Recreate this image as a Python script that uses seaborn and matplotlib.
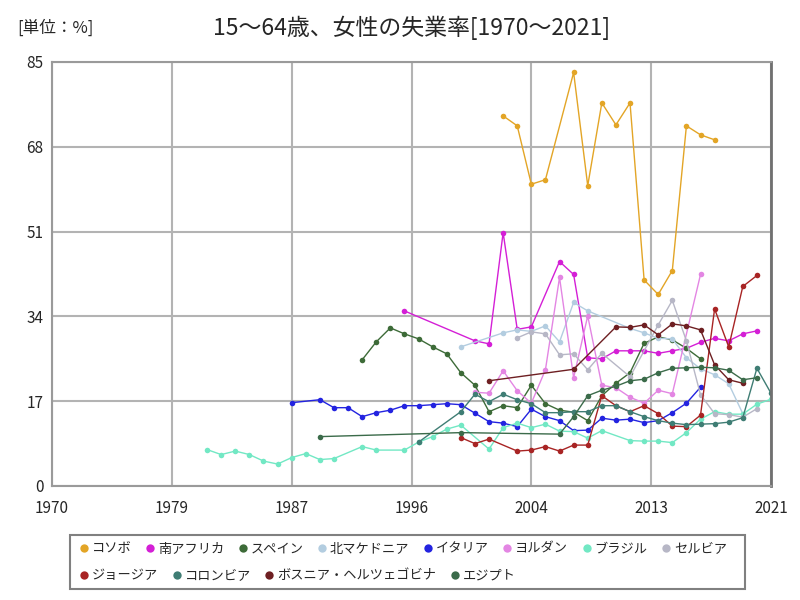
import pandas as pd
import seaborn as sns
import matplotlib.pyplot as plt
from matplotlib.lines import Line2D
from matplotlib.patches import Rectangle

# data (missing years are simply skipped)
kosovo_years = [2002, 2003, 2004, 2005, 2007, 2008, 2009, 2010, 2011, 2012, 2013, 2014, 2015, 2016, 2017]
kosovo_vals = [74.2, 72.2, 60.5, 61.4, 82.9, 60.2, 76.8, 72.4, 76.8, 41.3, 38.4, 43.2, 72.2, 70.4, 69.4]

safrica_years = [1995, 2000, 2001, 2002, 2003, 2004, 2006, 2007, 2008, 2009, 2010, 2011,
                 2012, 2013, 2014, 2015, 2016, 2017, 2018, 2019, 2020]
safrica_vals = [35.1, 29.1, 28.5, 50.8, 31.4, 31.9, 45.0, 42.4, 25.7, 25.5, 27.1, 27.1,
                27.1, 26.6, 27.1, 27.6, 28.8, 29.6, 29.1, 30.5, 31.1]

spain_years = list(range(1992, 2017))
spain_vals = [25.3, 28.9, 31.7, 30.5, 29.5, 27.9, 26.5, 22.7, 20.2, 14.9, 16.1, 15.7, 20.2,
              16.5, 15.2, 14.8, 13.1, 18.1, 20.6, 22.7, 28.6, 29.9, 29.3, 27.6, 25.5]

macedonia_years = [1999, 2002, 2003, 2004, 2005, 2006, 2007, 2008, 2011, 2012, 2013, 2014,
                   2015, 2016, 2017, 2018, 2019]
macedonia_vals = [27.9, 30.7, 31.3, 31.0, 32.1, 28.9, 36.8, 35.1, 31.6, 30.7, 29.6, 29.5,
                  25.7, 23.5, 22.3, 20.5, 14.5]

italy_years = [1987, 1989, 1990, 1991, 1992, 1993, 1994, 1995, 1996, 1997, 1998, 1999, 2000,
               2001, 2002, 2003, 2004, 2005, 2006, 2007, 2008, 2009, 2010, 2011, 2012, 2013,
               2014, 2015, 2016]
italy_vals = [16.7, 17.3, 15.7, 15.7, 13.9, 14.7, 15.2, 16.1, 16.1, 16.3, 16.5, 16.3, 14.6,
              12.9, 12.6, 11.9, 15.4, 13.9, 13.1, 11.1, 11.2, 13.6, 13.2, 13.4, 12.7, 13.1,
              14.7, 16.6, 19.8]

jordan_years = [2000, 2001, 2002, 2003, 2004, 2005, 2006, 2007, 2008, 2009, 2010, 2011,
                2012, 2013, 2014, 2016]
jordan_vals = [18.8, 18.6, 23.1, 19.1, 16.6, 23.3, 41.8, 21.7, 34.1, 20.2, 19.7, 17.8,
               16.6, 19.2, 18.5, 42.4]

brazil_years = [1981, 1982, 1983, 1984, 1985, 1986, 1987, 1988, 1989, 1990, 1992, 1993, 1995,
                1996, 1997, 1998, 1999, 2001, 2002, 2003, 2004, 2005, 2006, 2007, 2008, 2009,
                2011, 2012, 2013, 2014, 2015, 2016, 2017, 2018, 2019, 2020, 2021]
brazil_vals = [7.3, 6.3, 7.0, 6.3, 5.0, 4.4, 5.7, 6.5, 5.3, 5.5, 7.9, 7.2, 7.2,
               8.8, 9.9, 11.4, 12.2, 7.4, 11.7, 12.6, 11.7, 12.4, 11.0, 10.9, 9.6, 11.1,
               9.1, 9.0, 9.0, 8.7, 10.7, 13.4, 14.9, 14.4, 14.4, 16.4, 17.4]

serbia_years = [2003, 2004, 2005, 2006, 2007, 2008, 2009, 2011, 2013, 2014, 2015, 2016,
                2017, 2018, 2019, 2020]
serbia_vals = [29.7, 30.9, 30.5, 26.3, 26.5, 23.3, 26.6, 21.9, 32.3, 37.2, 29.1, 18.3,
               14.5, 14.3, 13.8, 15.5]

georgia_years = [1999, 2000, 2001, 2003, 2004, 2005, 2006, 2007, 2008, 2009, 2010, 2011,
                 2012, 2013, 2014, 2015, 2016, 2017, 2018, 2019, 2020]
georgia_vals = [9.7, 8.5, 9.4, 7.0, 7.2, 7.9, 7.0, 8.2, 8.2, 18.1, 16.1, 14.9,
                16.1, 14.5, 12.0, 11.9, 14.2, 35.5, 27.9, 40.0, 42.2]

colombia_years = [1996, 1999, 2000, 2001, 2002, 2003, 2004, 2005, 2006, 2007, 2008, 2009,
                  2010, 2011, 2012, 2013, 2014, 2015, 2016, 2017, 2018, 2019, 2020, 2021]
colombia_vals = [8.8, 14.9, 18.4, 16.9, 18.4, 17.3, 16.5, 14.7, 14.7, 14.9, 14.9, 16.1,
                 16.1, 14.9, 13.9, 13.1, 12.6, 12.3, 12.4, 12.5, 12.8, 13.7, 23.6, 18.6]

bosnia_years = [2001, 2007, 2010, 2011, 2012, 2013, 2014, 2015, 2016, 2017, 2018, 2019]
bosnia_vals = [21.1, 23.4, 31.9, 31.8, 32.3, 30.3, 32.5, 32.1, 31.3, 24.3, 21.3, 20.6]

egypt_years = [1989, 1999, 2006, 2007, 2008, 2009, 2010, 2011, 2012, 2013, 2014, 2015,
               2016, 2017, 2018, 2019, 2020]
egypt_vals = [9.9, 10.7, 10.4, 13.9, 18.1, 19.2, 20.0, 21.1, 21.4, 22.7, 23.6, 23.7,
              23.8, 23.7, 23.2, 21.3, 21.7]

countries = ['コソボ', '南アフリカ', 'スペイン', '北マケドニア', 'イタリア', 'ヨルダン',
             'ブラジル', 'セルビア', 'ジョージア', 'コロンビア', 'ボスニア・ヘルツェゴビナ', 'エジプト']
colors = ['#e3a526', '#d41fd6', '#3d6b38', '#b3cde0', '#2323e0', '#e386e3',
          '#72e8c4', '#b7b7c6', '#a82424', '#3f7d74', '#6e1f22', '#3b6b4a']
y_ticks = [0, 17, 34, 51, 68, 85]
x_labels = ['1970', '1979', '1987', '1996', '2004', '2013', '2021']

series = [(kosovo_years, kosovo_vals), (safrica_years, safrica_vals), (spain_years, spain_vals),
          (macedonia_years, macedonia_vals), (italy_years, italy_vals), (jordan_years, jordan_vals),
          (brazil_years, brazil_vals), (serbia_years, serbia_vals), (georgia_years, georgia_vals),
          (colombia_years, colombia_vals), (bosnia_years, bosnia_vals), (egypt_years, egypt_vals)]

frames = []
for name, (yrs, vals) in zip(countries, series):
    frames.append(pd.DataFrame({'year': yrs, 'rate': vals, 'country': name}))
df = pd.concat(frames, ignore_index=True)

sns.set_style('white')
plt.rcParams['font.family'] = ['Noto Sans CJK JP', 'DejaVu Sans']

fig = plt.figure(figsize=(8, 6), dpi=100)
ax = fig.add_axes([52 / 800, 114 / 600, 719 / 800, 424 / 600])

sns.lineplot(data=df, x='year', y='rate', hue='country', hue_order=countries,
             palette=dict(zip(countries, colors)), marker='o', markersize=4,
             markeredgewidth=0, linewidth=1, estimator=None, legend=False, ax=ax)

ax.set_xlim(1970, 2021)
ax.set_ylim(0, 85)
ax.set_xticks([1970 + i * 8.5 for i in range(7)])
ax.set_xticklabels(x_labels)
ax.set_yticks(y_ticks)
ax.tick_params(axis='both', length=0, labelsize=11)
ax.tick_params(axis='x', pad=10)
ax.tick_params(axis='y', pad=6)
ax.set_xlabel('')
ax.set_ylabel('')
ax.grid(True, color='#b3b3b3', linewidth=1.5)
ax.set_axisbelow(True)
for side in ['left', 'bottom', 'top']:
    ax.spines[side].set_color('#9a9a9a')
    ax.spines[side].set_linewidth(1.5)
ax.spines['right'].set_color('#707070')
ax.spines['right'].set_linewidth(2)

fig.text(411.5 / 800, 0.953, '15～64歳、女性の失業率[1970～2021]', ha='center', va='center', fontsize=16.5)
fig.text(0.022, 0.953, '[単位：%]', ha='left', va='center', fontsize=12)

# legend: two free-flowing rows inside one box
def marker_handle(c):
    return Line2D([], [], marker='o', linestyle='', markersize=6, markeredgewidth=0, color=c)

rows = [list(range(0, 8)), list(range(8, 12))]
row_y = [549, 576]
for idx, yy in zip(rows, row_y):
    fig.legend([marker_handle(colors[i]) for i in idx], [countries[i] for i in idx],
               ncol=len(idx), loc='center left', bbox_to_anchor=(80 / 800, 1 - yy / 600),
               fontsize=9.5, frameon=False, handlelength=0.6, handletextpad=0.3,
               columnspacing=1.1, borderpad=0, borderaxespad=0)
fig.add_artist(Rectangle((70 / 800, 1 - 589 / 600), 675 / 800, 54 / 600, fill=False,
                         edgecolor='#808080', linewidth=1.5, transform=fig.transFigure))

fig.savefig('out.png', dpi=100)
